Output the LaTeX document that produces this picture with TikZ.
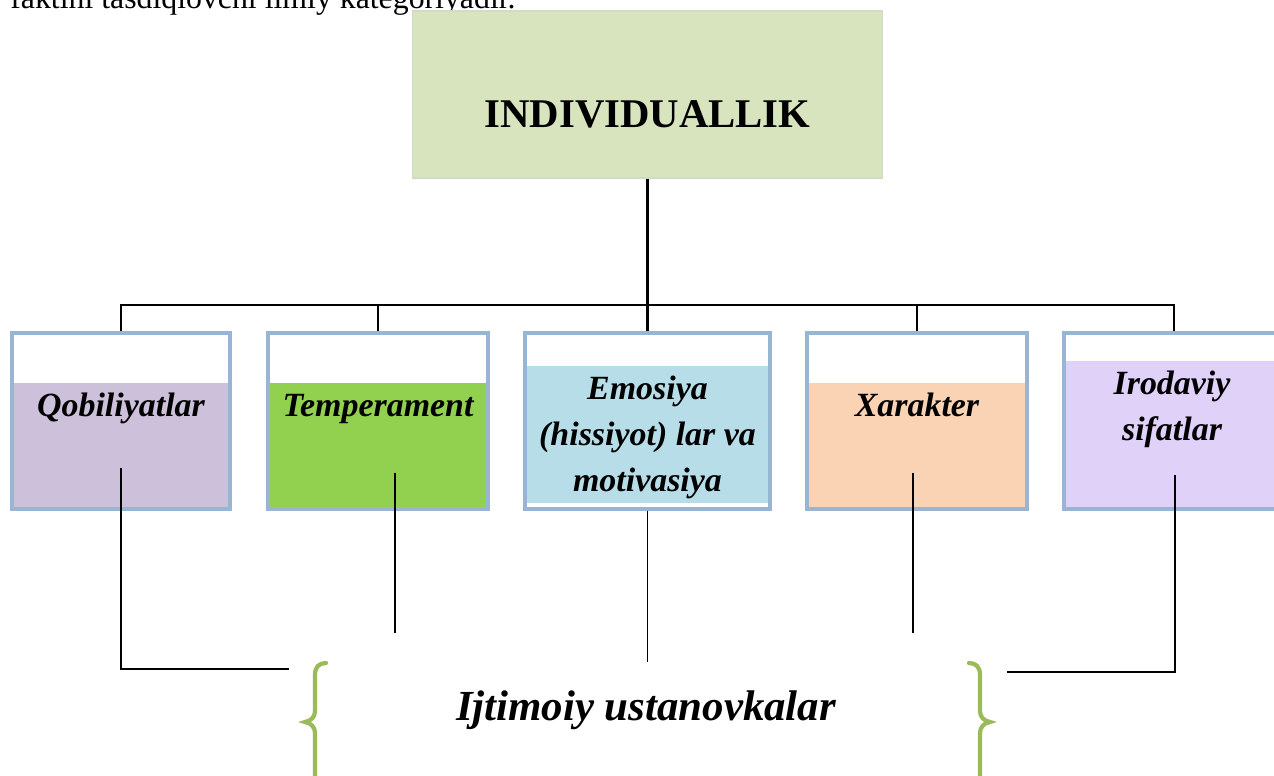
\documentclass[tikz,border=0pt]{standalone}
\usepackage{fontspec}
\setmainfont{Liberation Serif}
\usetikzlibrary{calc}

\definecolor{topgreen}{HTML}{D7E4BD}
\definecolor{topedge}{HTML}{CFDCC6}
\definecolor{boxblue}{HTML}{9AB4D3}
\definecolor{qobfill}{HTML}{CCC0DA}
\definecolor{temfill}{HTML}{92D050}
\definecolor{emofill}{HTML}{B7DEE8}
\definecolor{xarfill}{HTML}{FAD3B4}
\definecolor{irodfill}{HTML}{E0D1F8}
\definecolor{bracegreen}{HTML}{9BBB59}

\begin{document}
\begin{tikzpicture}[x=0.02cm,y=-0.02cm,
    catbox/.style={draw=boxblue,line width=2pt,minimum height=3.52cm,inner sep=0pt},
    cattext/.style={font=\fontsize{19.3}{26}\selectfont\bfseries\itshape,align=center,anchor=base},
    conn/.style={line width=1.2pt},
    thinconn/.style={line width=0.8pt},
    brace/.style={draw=bracegreen,line width=2.4pt,line cap=round}]
	    \useasboundingbox (0,0) rectangle (1274,776);
	    \clip (0,0) rectangle (1274,776);
	    \node[anchor=base west,font=\fontsize{18.1}{22}\selectfont,inner sep=0pt] (prevtext) at (10,9) {faktini tasdiqlovchi ilmiy kategoriyadir.};
	    % top box
	    \node[draw=topedge,fill=topgreen,line width=0.6pt,minimum width=9.42cm,minimum height=3.34cm] (indiv) at (647.5,94.5) {};
	    \node[anchor=base,font=\fontsize{23.2}{28}\selectfont\bfseries] (indivtext) at (647.5,128) {INDIVIDUALLIK};
	    % coloured parts of the boxes
	    \fill[qobfill] (12,383) rectangle (230,509);
	    \fill[temfill] (268,383) rectangle (488,509);
	    \fill[emofill] (525,366) rectangle (770,503);
	    \fill[xarfill] (807,383) rectangle (1027,509);
	    \fill[irodfill] (1064,361) rectangle (1284,509);
	    \node[catbox,minimum width=4.36cm] (qob) at (121,421) {};
	    \node[catbox,minimum width=4.40cm] (tem) at (378,421) {};
	    \node[catbox,minimum width=4.90cm] (emo) at (647.5,421) {};
	    \node[catbox,minimum width=4.40cm] (xar) at (917,421) {};
	    \node[catbox,minimum width=4.40cm] (irod) at (1174,421) {};
	    \node[cattext] (qobtext) at (121,417) {Qobiliyatlar};
	    \node[cattext] (temtext) at (378,417) {Temperament};
	    \node[cattext,anchor=north] (emotext) at (647.5,370) {Emosiya\\(hissiyot) lar va\\motivasiya};
	    \node[cattext,anchor=north,font=\fontsize{19.3}{26.3}\selectfont\bfseries\itshape] (irodtext) at (1172,365) {Irodaviy\\sifatlar};
	    \node[cattext] (xartext) at (917,417) {Xarakter};
	    % upper tree
	    \coordinate (bus) at (647.5,305);
	    \draw[conn] (indiv.south) -- (bus);
	    \draw[conn] (qob.north) |- (bus) -| (irod.north);
	    \foreach \b in {tem,emo,xar}
	        \draw[conn] (\b.north) -- (\b.north |- bus);
	    % lower lines
	    \node[anchor=base,font=\fontsize{24.4}{30}\selectfont\bfseries\itshape] (ust) at (646,720) {Ijtimoiy ustanovkalar};
	    \coordinate (ustL) at (289,669);
	    \coordinate (ustR) at (1007,672);
	    \coordinate (temend) at (395,633);
	    \coordinate (xarend) at (913,633);
	    \coordinate (emoend) at (647.5,662);
	    \draw[thinconn] ($(qob.center)+(0,47)$) |- (ustL);
	    \draw[thinconn] (temend |- tem.center) ++(0,52) -- (temend);
	    \draw[thinconn] (emo.south) -- (emoend);
	    \draw[thinconn] (xarend |- xar.center) ++(0,52) -- (xarend);
	    \draw[thinconn] ($(irod.center)+(1,54)$) |- (ustR);
	    % braces
	    \draw[brace] (326,663) .. controls (319,663) and (315,667) .. (315,675) -- (315,711) .. controls (315,717) and (311,721) .. (305,722) .. controls (311,723) and (315,727) .. (315,733) -- (315,776) .. controls (315,781) and (319,783) .. (326,783);
	    \draw[brace] (969,663) .. controls (976,663) and (980,667) .. (980,675) -- (980,711) .. controls (980,717) and (984,721) .. (990,722) .. controls (984,723) and (980,727) .. (980,733) -- (980,776) .. controls (980,781) and (976,783) .. (969,783);
\end{tikzpicture}
\end{document}
